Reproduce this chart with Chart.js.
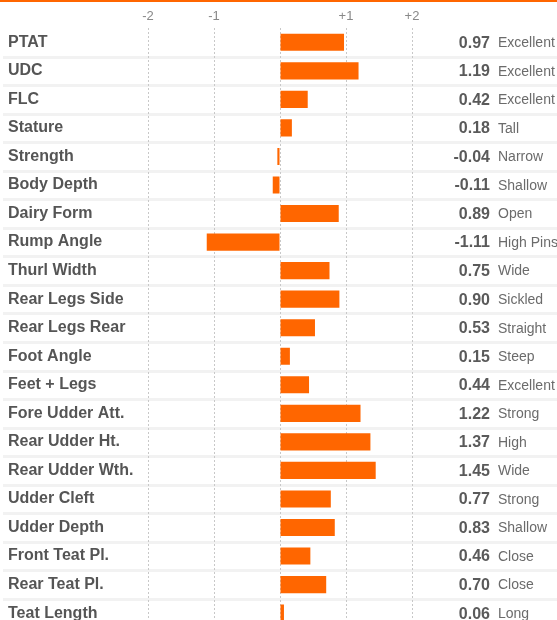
<!DOCTYPE html>
<html>
<head>
<meta charset="utf-8">
<script src="https://cdn.jsdelivr.net/npm/chart.js@4.4.1/dist/chart.umd.min.js"></script>
<style>
html, body { margin: 0; padding: 0; background: #fff; overflow: hidden; }
canvas { display: block; }
</style>
</head>
<body>
<canvas id="traits" width="557" height="640"></canvas>
<script>
// trait names, PTA values and the word that describes each value
var traits = ["PTAT", "UDC", "FLC", "Stature", "Strength", "Body Depth", "Dairy Form",
	"Rump Angle", "Thurl Width", "Rear Legs Side", "Rear Legs Rear", "Foot Angle",
	"Feet + Legs", "Fore Udder Att.", "Rear Udder Ht.", "Rear Udder Wth.", "Udder Cleft",
	"Udder Depth", "Front Teat Pl.", "Rear Teat Pl.", "Teat Length"];
var scores = [0.97, 1.19, 0.42, 0.18, -0.04, -0.11, 0.89, -1.11, 0.75, 0.90, 0.53, 0.15,
	0.44, 1.22, 1.37, 1.45, 0.77, 0.83, 0.46, 0.70, 0.06];
var descriptors = ["Excellent", "Excellent", "Excellent", "Tall", "Narrow", "Shallow", "Open",
	"High Pins", "Wide", "Sickled", "Straight", "Steep", "Excellent", "Strong", "High", "Wide",
	"Strong", "Shallow", "Close", "Close", "Long"];
var axisMin = -2, axisMax = 2;

var FONT = "'Liberation Sans', Arial, sans-serif";
var ORANGE = "#ff6600";

// row stripes, top rule and the value / descriptor column on the right
var decor = {
	id: "decor",
	beforeDraw: function(chart) {
		var c = chart.ctx, y = chart.scales.y;
		var half = (y.getPixelForTick(1) - y.getPixelForTick(0)) / 2;
		c.save();
		c.fillStyle = ORANGE;
		c.fillRect(0, 0, chart.width, 2);
		c.fillStyle = "#f2f2f2";
		for (var i = 0; i < traits.length; i++) {
			var yy = y.getPixelForTick(i) + half;
			c.fillRect(3, Math.round(yy) - 1, chart.width, 3);
		}
		c.restore();
	},
	afterDraw: function(chart) {
		var c = chart.ctx, y = chart.scales.y;
		c.save();
		c.textBaseline = "middle";
		for (var i = 0; i < traits.length; i++) {
			var yy = y.getPixelForTick(i) + 1;
			c.font = "bold 16px " + FONT;
			c.fillStyle = "#5a5a5a";
			c.textAlign = "right";
			c.fillText(scores[i].toFixed(2), 490, yy);
			c.font = "14px " + FONT;
			c.fillStyle = "#6b6b6b";
			c.textAlign = "left";
			c.fillText(descriptors[i], 498, yy);
		}
		c.restore();
	}
};

var ctx = document.getElementById("traits");

var data = {
	labels: traits,
	datasets: [{
		data: scores,
		backgroundColor: ORANGE,
		borderWidth: 0,
		barPercentage: 0.6,
		categoryPercentage: 1
	}]
};

var options = {
	indexAxis: "y",
	responsive: false,
	animation: false,
	layout: { padding: { left: 8, right: 145, top: 0, bottom: 6 } },
	plugins: {
		legend: { display: false },
		tooltip: { enabled: false }
	},
	scales: {
		x: {
			position: "top",
			min: axisMin,
			max: axisMax,
			afterFit: function(s) { s.height = 28; },
			border: { display: false, dash: [2, 2] },
			grid: { color: "#c8c8c8", drawTicks: false },
			ticks: {
				stepSize: 1,
				padding: 4,
				color: "#888",
				font: { family: FONT, size: 13 },
				callback: function(v) { return v === 0 ? "" : (v > 0 ? "+" + v : String(v)); }
			}
		},
		y: {
			afterFit: function(s) { s.width = 140; },
			border: { display: false },
			grid: { display: false },
			ticks: {
				crossAlign: "far",
				color: "#555",
				font: { family: FONT, size: 16, weight: "bold" }
			}
		}
	}
};

var chart = new Chart(ctx, {
	type: "bar",
	data: data,
	options: options,
	plugins: [decor]
});
</script>
</body>
</html>
